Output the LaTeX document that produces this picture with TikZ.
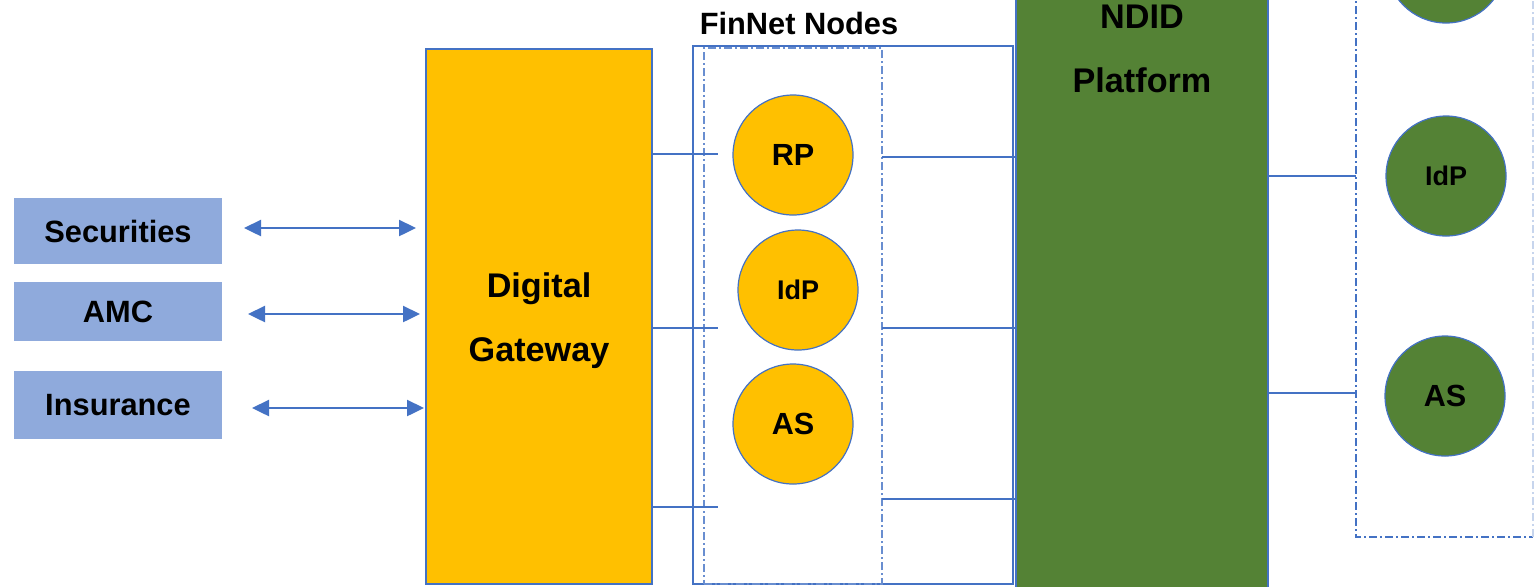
\documentclass[tikz,border=0pt]{standalone}
\usepackage{fontspec}
\setmainfont{Liberation Sans}
\usetikzlibrary{arrows.meta}
\definecolor{lnblue}{HTML}{4472C4}
\definecolor{boxblue}{HTML}{8FAADC}
\definecolor{gold}{HTML}{FFC000}
\definecolor{leaf}{HTML}{548235}
\tikzset{
  srcbox/.style={fill=boxblue, draw=none, minimum width=104pt, inner sep=0pt, outer sep=0pt, font=\fontsize{15.4}{18}\selectfont\bfseries},
  link/.style={draw=lnblue, line width=1.3pt},
  biarrow/.style={draw=lnblue, line width=1.2pt, {Triangle[length=8.5pt,width=8pt]}-{Triangle[length=8.5pt,width=8pt]}},
  dashdot/.style={draw=lnblue, line width=0.6pt, dash pattern=on 4pt off 1.5pt on 1pt off 1.5pt},
  orangenode/.style={circle, fill=gold, draw=lnblue, line width=0.6pt, minimum size=60pt, inner sep=0pt, font=\fontsize{15.3}{18}\selectfont\bfseries},
  greennode/.style={circle, fill=leaf, draw=lnblue, line width=0.6pt, minimum size=60pt, inner sep=0pt, font=\fontsize{15.3}{18}\selectfont\bfseries},
  bigtext/.style={align=center, font=\fontsize{17.1}{32}\selectfont\bfseries}
}
\begin{document}
\begin{tikzpicture}[x=0.5pt,y=-0.5pt]
\useasboundingbox (0,0) rectangle (1534,586);
\clip (0,0) rectangle (1534,586);
\fill[white] (0,0) rectangle (1534,586);

% source boxes
\node[srcbox, minimum height=33pt] (sec) at (118,231) {Securities};
\node[srcbox, minimum height=29.5pt] (amc) at (118,311.5) {AMC};
\node[srcbox, minimum height=34pt] (ins) at (118,405) {Insurance};

% digital gateway
\node[fill=gold, draw=lnblue, line width=0.6pt, minimum width=113pt, minimum height=267.5pt, inner sep=0pt, outer sep=0pt] (gw) at (539,316.5) {};
\node[bigtext] (gwtxt) at (539,321) {Digital\\Gateway};

% arrows
\coordinate (a1) at (244,228); \coordinate (b1) at (416,228);
\coordinate (a2) at (248,314); \coordinate (b2) at (420,314);
\coordinate (a3) at (252,408); \coordinate (b3) at (424,408);
\draw[biarrow] (a1) -- (b1);
\draw[biarrow] (a2) -- (b2);
\draw[biarrow] (a3) -- (b3);

% FinNet box
\node[draw=lnblue, line width=0.6pt, minimum width=160pt, minimum height=269pt, inner sep=0pt, outer sep=0pt] (finnet) at (853,315) {};
\node[font=\fontsize{15.4}{18}\selectfont\bfseries] (fntitle) at (799,23) {FinNet Nodes};
\node[dashdot, draw=lnblue!80, minimum width=89pt, minimum height=268pt, inner sep=0pt, outer sep=0pt] (inner) at (793,316) {};

\node[orangenode] (rp) at (793,155) {RP};
\node[orangenode, font=\fontsize{13.5}{16}\selectfont\bfseries] (idp) at (798,290) {IdP};
\node[orangenode] (as) at (793,424) {AS};

% NDID
\node[fill=leaf, draw=lnblue, line width=0.6pt, minimum width=126pt, minimum height=310pt, inner sep=0pt, outer sep=0pt] (ndid) at (1142,293) {};
\node[bigtext] (ndidtxt) at (1142,48.5) {NDID\\Platform};

% gateway to finnet links
\coordinate (g1) at (718,154);
\coordinate (g2) at (718,328);
\coordinate (g3) at (718,507);
\draw[link] (gw.east |- g1) -- (g1);
\draw[link] (gw.east |- g2) -- (g2);
\draw[link] (gw.east |- g3) -- (g3);

% finnet to ndid links
\coordinate (f1) at (882,157);
\coordinate (f2) at (882,328);
\coordinate (f3) at (882,499);
\draw[link] (f1) -- (ndid.west |- f1);
\draw[link] (f2) -- (ndid.west |- f2);
\draw[link] (f3) -- (ndid.west |- f3);

% right group
\draw[dashdot] (1356,-10) -- (1356,537) -- (1533,537);
\draw[dashdot, draw=lnblue!30] (1533,537) -- (1533,-10);
\coordinate (r1) at (1356,176);
\coordinate (r2) at (1356,393);
\draw[link] (ndid.east |- r1) -- (r1);
\draw[link] (ndid.east |- r2) -- (r2);

\node[greennode] (rtop) at (1446,-37) {};
\node[greennode, font=\fontsize{13.5}{16}\selectfont\bfseries] (ridp) at (1446,176) {IdP};
\node[greennode] (ras) at (1445,396) {AS};
\end{tikzpicture}
\end{document}
